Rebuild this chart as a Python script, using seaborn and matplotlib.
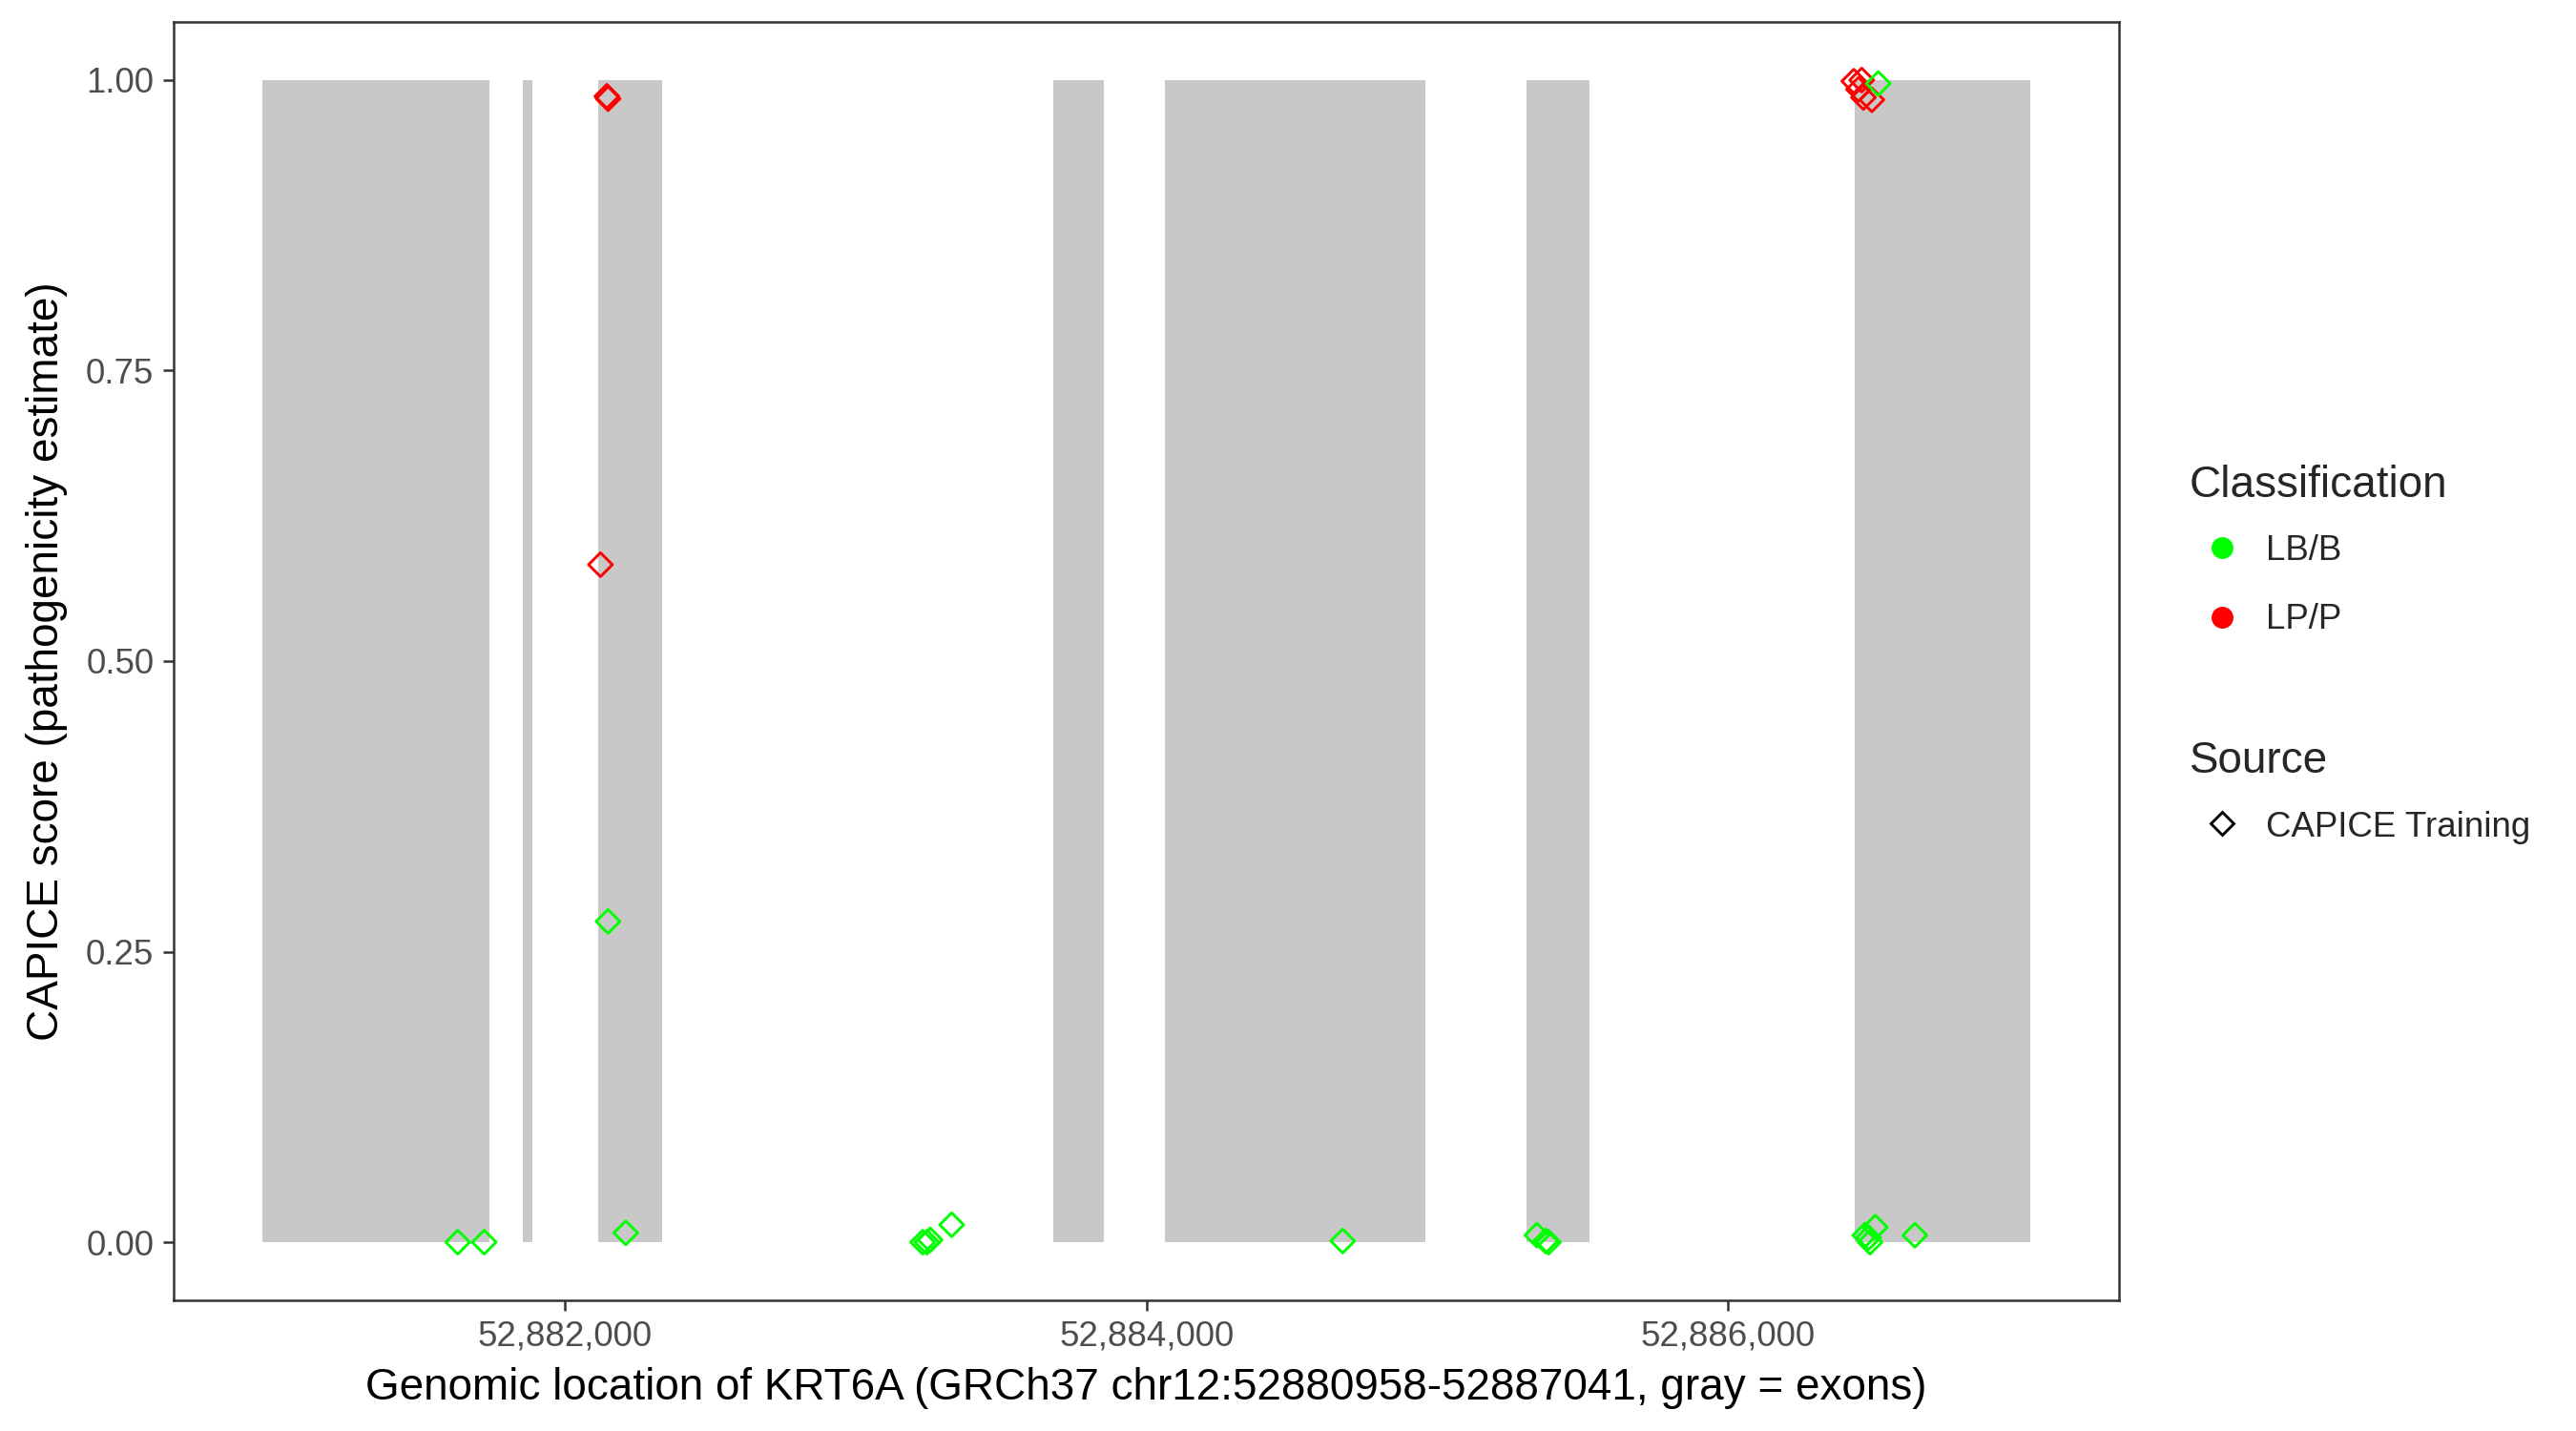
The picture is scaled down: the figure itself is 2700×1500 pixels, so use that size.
import matplotlib
matplotlib.use("Agg")
import matplotlib.pyplot as plt
from matplotlib.lines import Line2D
from matplotlib.ticker import FuncFormatter
import seaborn as sns
import pandas as pd

# ---- data ----
exon_start = [52880958, 52881854, 52882113, 52883681, 52884063, 52885308, 52886435]
exon_end   = [52881739, 52881887, 52882333, 52883855, 52884959, 52885523, 52887041]

lp_pos   = [52882122, 52882144, 52882148, 52886433, 52886460, 52886449, 52886466, 52886495]
lp_score = [0.583, 0.986, 0.984, 0.999, 1.000, 0.992, 0.985, 0.983]

lb_pos   = [52881631, 52881722, 52882148, 52882209, 52883230, 52883245, 52883256, 52883330,
            52884675, 52885343, 52885373, 52885383, 52886471, 52886484, 52886489, 52886507,
            52886643, 52886517]
lb_score = [0.000, 0.000, 0.276, 0.008, 0.000, 0.000, 0.002, 0.015,
            0.001, 0.006, 0.001, 0.000, 0.006, 0.004, 0.000, 0.013,
            0.006, 0.997]

classes = ["LB/B", "LP/P"]
class_colors = {"LB/B": "#00FF00", "LP/P": "#FF0000"}
source_label = "CAPICE Training"
x_ticks = [52882000, 52884000, 52886000]
y_ticks = [0.00, 0.25, 0.50, 0.75, 1.00]

gene_start, gene_end = 52880958, 52887041

df = pd.DataFrame({
    "pos": lp_pos + lb_pos,
    "score": lp_score + lb_score,
    "Classification": ["LP/P"] * len(lp_pos) + ["LB/B"] * len(lb_pos),
})

# ---- style ----
sns.set_theme(style="white")
plt.rcParams["font.family"] = ["Liberation Sans", "DejaVu Sans"]

W, H = 2700, 1500
fig = plt.figure(figsize=(9, 5), dpi=300)
L, R, T, B = 182, 2221, 23, 1363
ax = fig.add_axes([L / W, 1 - B / H, (R - L) / W, (B - T) / H])

# exons
ax.bar(exon_start, [1] * len(exon_start),
       width=[e - s for s, e in zip(exon_start, exon_end)],
       bottom=0, align="edge", color="#C8C8C8", linewidth=0, zorder=1)

sns.scatterplot(data=df, x="pos", y="score", hue="Classification",
                palette=class_colors, marker="D", s=18, linewidth=0.7,
                legend=False, ax=ax, zorder=3)
for coll in ax.collections:
    fc = coll.get_facecolors()
    coll.set_edgecolors(fc)
    coll.set_facecolors("none")
    coll.set_linewidths(0.7)

span = gene_end - gene_start
ax.set_xlim(gene_start - 0.05 * span, gene_end + 0.05 * span)
ax.set_ylim(-0.05, 1.05)
ax.set_xticks(x_ticks)
ax.set_yticks(y_ticks)
ax.xaxis.set_major_formatter(FuncFormatter(lambda v, p: f"{int(round(v)):,}"))
ax.yaxis.set_major_formatter(FuncFormatter(lambda v, p: f"{v:.2f}"))
ax.grid(False)
for sp in ax.spines.values():
    sp.set_visible(True)
    sp.set_color("#333333")
    sp.set_linewidth(0.6)
ax.tick_params(axis="both", which="major", length=2.75, width=0.6, color="#333333",
               labelsize=8.8, labelcolor="#4D4D4D", pad=2.2,
               bottom=True, left=True)

ax.set_xlabel("Genomic location of KRT6A (GRCh37 chr12:52880958-52887041, gray = exons)",
              fontsize=11, color="black", labelpad=3.5)
ax.set_ylabel("CAPICE score (pathogenicity estimate)", fontsize=11, color="black",
              labelpad=4.5)

# ---- legends (manual, ggplot style) ----
def fx(x):
    return x / W

def fy(y):
    return 1 - y / H

fig.text(fx(2295), fy(520.7), "Classification", fontsize=11, va="baseline", ha="left")
entries = [("LB/B", 574, 587), ("LP/P", 647, 659)]
for lab, yc, yb in entries:
    fig.add_artist(Line2D([fx(2329)], [fy(yc)], marker="o", markersize=4.5,
                          color=class_colors[lab], linestyle="none",
                          transform=fig.transFigure))
    fig.text(fx(2375), fy(yb), lab, fontsize=8.8, va="baseline", ha="left")

fig.text(fx(2295), fy(810), "Source", fontsize=11, va="baseline", ha="left")
fig.add_artist(Line2D([fx(2329)], [fy(863)], marker="D", markersize=4.2,
                      markerfacecolor="none", markeredgecolor="black",
                      markeredgewidth=0.7, linestyle="none",
                      transform=fig.transFigure))
fig.text(fx(2375), fy(876.7), source_label, fontsize=8.8, va="baseline", ha="left")

fig.savefig("out.png", dpi=300, facecolor="white")
